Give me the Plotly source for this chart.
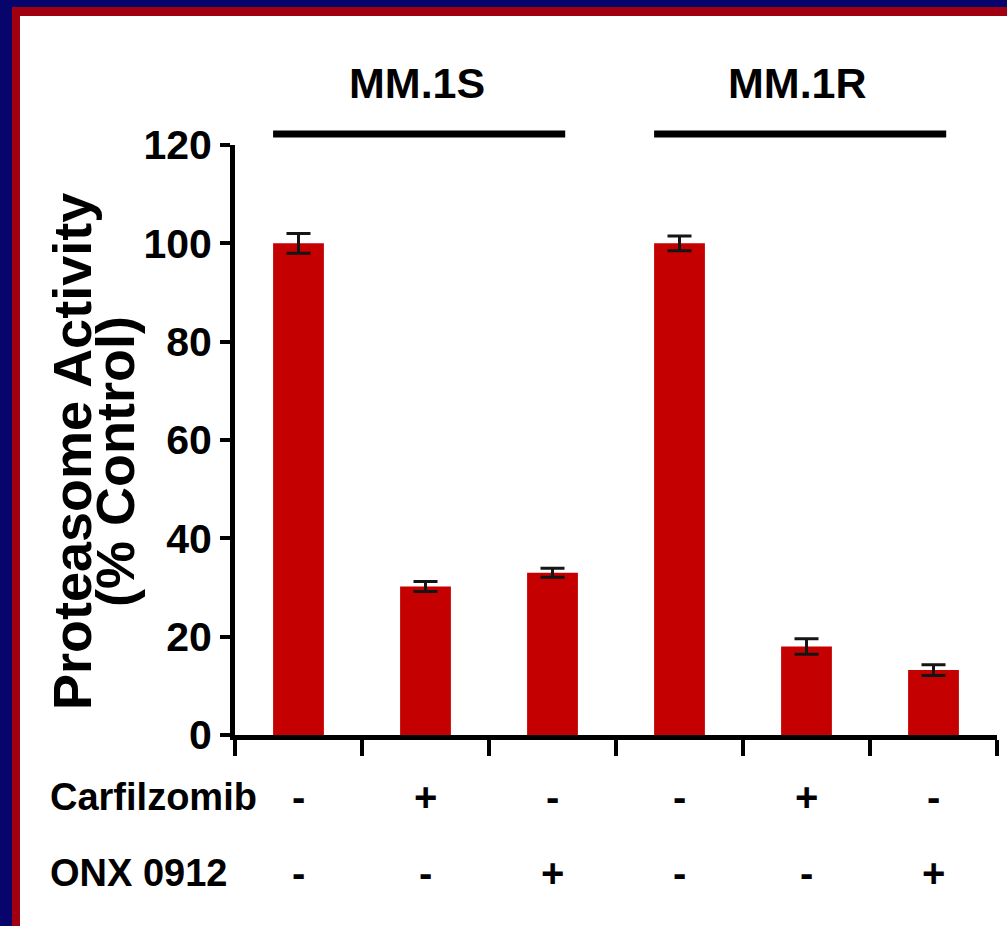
import plotly.graph_objects as go

# ---- data ----
categories = ["MM.1S ctrl", "MM.1S Carfilzomib", "MM.1S ONX 0912",
              "MM.1R ctrl", "MM.1R Carfilzomib", "MM.1R ONX 0912"]
activity = [100, 30.2, 33.0, 100, 18.0, 13.2]
errors = [2.0, 1.0, 0.9, 1.5, 1.6, 1.1]
carfilzomib = ["-", "+", "-", "-", "+", "-"]
onx0912 = ["-", "-", "+", "-", "-", "+"]
groups = ["MM.1S", "MM.1R"]
group_start = [0, 3]
group_size = 3
row_labels = ["Carfilzomib", "ONX 0912"]
y_ticks = [0, 20, 40, 60, 80, 100, 120]

W, H = 1007, 926
NAVY = "#07056c"
FRAME = "#a0000f"
BAR = "#c40000"
FONT = "Liberation Sans, Arial, Helvetica, sans-serif"

def px(x):
    return x / W

def py(y):
    return 1 - y / H

fig = go.Figure()
fig.add_trace(go.Bar(
    x=categories, y=activity,
    marker=dict(color=BAR, line=dict(width=0)),
    error_y=dict(type="data", array=errors, visible=True,
                 color="#151515", thickness=3, width=12),
    width=0.4,
))

shapes = [
    dict(type="rect", xref="paper", yref="paper", x0=px(12), x1=1.0, y0=0, y1=py(7),
         fillcolor=FRAME, line=dict(width=0), layer="below"),
    dict(type="rect", xref="paper", yref="paper", x0=px(20), x1=1.0, y0=0, y1=py(16),
         fillcolor="white", line=dict(width=0), layer="below"),
]
annotations = []
for g, s in zip(groups, group_start):
    shapes.append(dict(type="line", xref="x", yref="paper",
                       x0=s - 0.2, x1=s + group_size - 0.9,
                       y0=py(134), y1=py(134),
                       line=dict(color="black", width=7)))
    annotations.append(dict(text="<b>%s</b>" % g, xref="x", yref="paper",
                            x=s + (group_size - 1) / 2, y=py(83), xshift=-9,
                            showarrow=False, xanchor="center", yanchor="middle",
                            font=dict(family=FONT, size=43, color="black")))

for label, row, yy in zip(row_labels, [carfilzomib, onx0912], [797, 873]):
    annotations.append(dict(text="<b>%s</b>" % label, xref="paper", yref="paper",
                            x=px(48), y=py(yy), showarrow=False,
                            xanchor="left", yanchor="middle",
                            font=dict(family=FONT, size=38, color="black")))
    for c, sgn in zip(categories, row):
        annotations.append(dict(text="<b>%s</b>" % sgn, xref="x", yref="paper",
                                x=c, y=py(yy), showarrow=False,
                                xanchor="center", yanchor="middle",
                                font=dict(family=FONT, size=40, color="black")))

annotations.append(dict(text="<b>Proteasome Activity</b>", xref="paper", yref="paper",
                        x=px(72), y=py(452), textangle=-90, showarrow=False,
                        xanchor="center", yanchor="middle",
                        font=dict(family=FONT, size=54, color="black")))
annotations.append(dict(text="<b>(% Control)</b>", xref="paper", yref="paper",
                        x=px(115), y=py(462), textangle=-90, showarrow=False,
                        xanchor="center", yanchor="middle",
                        font=dict(family=FONT, size=54, color="black")))

fig.update_layout(
    width=W, height=H,
    margin=dict(l=0, r=0, t=0, b=0, autoexpand=False),
    paper_bgcolor=NAVY,
    plot_bgcolor="rgba(0,0,0,0)",
    showlegend=False,
    bargap=0.6,
    shapes=shapes,
    annotations=annotations,
    xaxis=dict(domain=[px(235), px(997)], type="category", automargin=False,
               showline=True, linecolor="black", linewidth=5,
               ticks="outside", tickson="boundaries", ticklen=16, tickwidth=4,
               tickcolor="black", showticklabels=False, showgrid=False,
               zeroline=False, fixedrange=True),
    yaxis=dict(domain=[py(735), py(145)], range=[0, 120], automargin=False,
               tickvals=y_ticks, ticktext=["<b>%d</b>" % v for v in y_ticks],
               showline=True, linecolor="black", linewidth=5,
               ticks="outside", ticklen=10, tickwidth=4, tickcolor="black",
               ticklabelstandoff=0,
               tickfont=dict(family=FONT, size=41, color="black"),
               showgrid=False, zeroline=False, fixedrange=True),
)

fig.write_html("out.html")
